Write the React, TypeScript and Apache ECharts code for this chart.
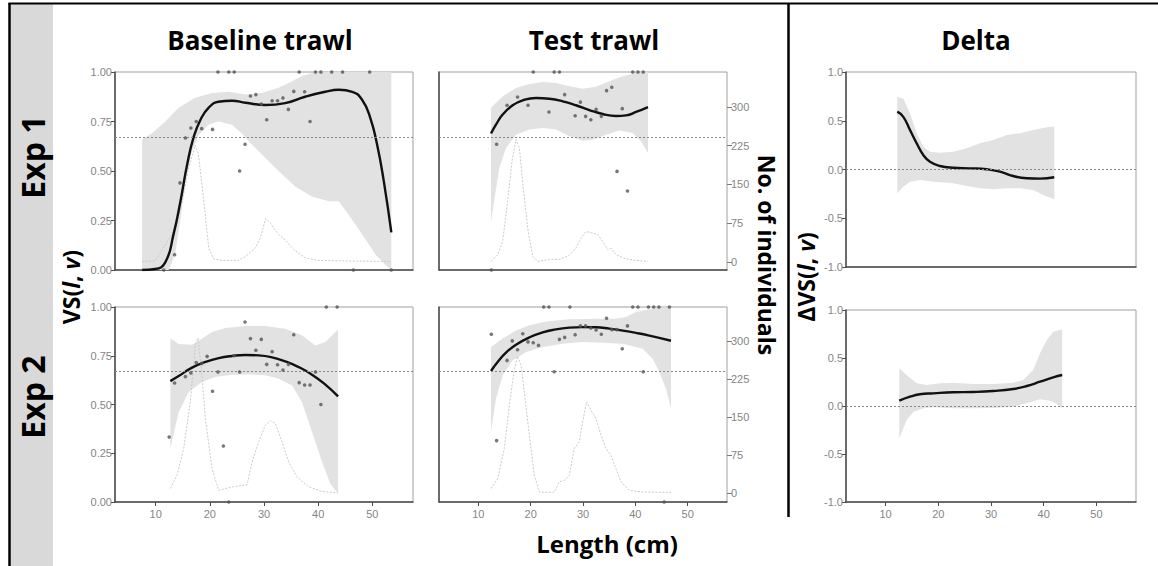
import React, { useEffect, useRef } from "react";
import * as echarts from "echarts";

// ---------- DATA ----------
const X_TICKS = [10, 20, 30, 40, 50];
const VS_TICKS_FMT = 2;
const COUNT_TICKS = [0, 75, 150, 225, 300];
const REF_VS = 0.667;
const REF_DELTA = 0;

// Exp 1 – Baseline trawl
const e1bFit = [[7.5,0],[9.9,0.005],[11.8,0.04],[13.3,0.18],[14.6,0.35],[15.8,0.53],[17.0,0.67],[18.3,0.76],[19.8,0.82],[21.6,0.85],[24.1,0.855],[26.6,0.845],[30.3,0.833],[33.9,0.843],[37.6,0.875],[41.3,0.9],[43.8,0.91],[46.3,0.9],[48.1,0.86],[49.6,0.77],[50.9,0.63],[52.1,0.45],[53.5,0.19]];
const e1bHi = [[7.5,0.66],[9.3,0.69],[11.8,0.75],[14.25,0.82],[17.3,0.87],[20.4,0.894],[23.5,0.9],[26.6,0.886],[29.6,0.894],[32.7,0.92],[35.2,0.953],[37.0,0.98],[38.9,0.995],[41.9,1],[53.5,1]];
const e1bLo = [[7.5,0],[12.4,0],[13.6,0.08],[14.6,0.26],[15.5,0.45],[16.7,0.6],[17.9,0.68],[19.8,0.735],[21.6,0.75],[24.1,0.734],[25.9,0.69],[27.8,0.633],[30.3,0.565],[32.7,0.5],[35.8,0.42],[38.9,0.37],[42.0,0.347],[43.8,0.347],[45.6,0.28],[48.1,0.18],[50.6,0.077],[52.4,0.027],[53.5,0]];
const e1bCount = [[7.5,1],[9.9,2],[11.2,24],[12.4,43],[13.6,66],[14.9,117],[16.1,182],[17.3,226],[17.9,208],[18.9,117],[19.8,27],[20.7,6],[22.3,3],[25.3,3],[26.6,11],[28.4,27],[29.3,46],[30.3,84],[31.2,75],[32.7,53],[33.9,43],[35.5,24],[37.6,8],[40.1,3],[45.0,2],[53.5,1]];
const e1bPts = [[11.5,0],[13.5,0.077],[14.5,0.44],[15.5,0.667],[16.5,0.717],[17.5,0.75],[18.5,0.714],[20.5,0.71],[21.5,1],[23.5,1],[24.5,1],[25.5,0.5],[26.5,0.635],[27.5,0.879],[28.5,0.886],[29.5,0.838],[30.5,0.759],[31.5,0.855],[32.5,0.855],[33.5,0.869],[34.5,0.811],[35.5,0.902],[36.5,1],[37.5,0.9],[38.5,0.75],[39.5,1],[40.5,1],[42.5,1],[44.5,1],[46.5,0],[49.5,1],[53.5,0]];

// Exp 1 – Test trawl
const e1tFit = [[12.43,0.689],[13.38,0.734],[14.66,0.785],[16.57,0.832],[18.48,0.857],[21.02,0.869],[23.57,0.865],[26.12,0.852],[28.66,0.832],[31.21,0.808],[33.75,0.788],[36.3,0.778],[38.21,0.781],[40.12,0.798],[42.41,0.823]];
const e1tHi = [[12.43,0.82],[14.66,0.877],[17.2,0.919],[19.75,0.94],[22.3,0.95],[24.84,0.944],[27.39,0.928],[29.93,0.916],[32.48,0.926],[35.03,0.953],[37.57,0.978],[40.12,0.995],[42.41,1]];
const e1tLo = [[12.43,0.246],[14.02,0.515],[15.29,0.616],[17.2,0.683],[19.75,0.709],[22.3,0.717],[24.84,0.709],[27.39,0.675],[29.93,0.653],[31.84,0.658],[34.39,0.683],[36.94,0.704],[39.48,0.692],[41.07,0.65],[42.41,0.591]];
const e1tCount = [[12.43,1],[13.7,14],[14.66,40],[15.6,117],[16.44,195],[17.2,237],[17.84,221],[18.6,143],[19.43,66],[20.39,11],[21.34,1],[23.57,5],[25.48,5],[27.39,13],[28.66,27],[29.62,46],[30.57,59],[31.84,56],[32.8,53],[33.75,40],[34.7,24],[35.35,27],[36.3,14],[38.21,6],[40.12,3],[42.41,1]];
const e1tPts = [[12.5,0],[13.5,0.635],[15.5,0.832],[17.5,0.874],[19.5,0.832],[20.5,1],[23.5,0.798],[24.5,1],[25.5,1],[26.5,0.886],[28.5,0.779],[29.5,0.848],[30.5,0.776],[31.5,0.759],[32.5,0.811],[33.5,0.776],[34.5,0.906],[35.5,0.923],[36.5,0.498],[37.5,0.815],[38.5,0.399],[39.5,1],[40.5,1],[41.5,1]];

// Exp 1 – Delta
const e1dFit = [[12.23,0.593],[13.37,0.54],[14.64,0.405],[15.9,0.269],[17.16,0.149],[18.43,0.08],[20.33,0.036],[22.85,0.018],[26.0,0.012],[29.2,0.002],[31.7,-0.022],[34.2,-0.067],[36.8,-0.09],[39.3,-0.094],[42.0,-0.08]];
const e1dHi = [[12.23,0.747],[13.37,0.726],[14.64,0.576],[15.9,0.371],[17.16,0.234],[18.43,0.183],[20.33,0.173],[22.85,0.183],[25.4,0.217],[27.9,0.269],[30.4,0.303],[33.0,0.354],[35.5,0.371],[38.0,0.405],[40.6,0.433],[42.0,0.44]];
const e1dLo = [[12.23,-0.244],[13.37,-0.176],[14.64,-0.125],[16.53,-0.108],[19.06,-0.125],[22.85,-0.142],[25.4,-0.169],[27.9,-0.193],[30.4,-0.203],[33.0,-0.193],[35.5,-0.193],[38.0,-0.21],[39.9,-0.262],[42.0,-0.306]];

// Exp 2 – Baseline trawl
const e2bFit = [[12.72,0.62],[14.25,0.646],[16.72,0.689],[19.18,0.718],[21.64,0.738],[24.1,0.749],[26.56,0.754],[29.02,0.752],[31.48,0.742],[33.95,0.721],[36.41,0.692],[38.87,0.653],[41.33,0.602],[43.67,0.542]];
const e2bHi = [[12.72,0.84],[14.25,0.81],[16.72,0.807],[18.56,0.838],[20.41,0.872],[22.87,0.892],[26.56,0.903],[30.25,0.903],[33.95,0.889],[37.0,0.855],[39.5,0.803],[41.33,0.82],[43.67,0.885]];
const e2bLo = [[12.72,0.274],[14.25,0.46],[16.1,0.564],[18.56,0.615],[21.0,0.641],[24.1,0.653],[27.18,0.655],[30.25,0.65],[32.72,0.632],[35.18,0.598],[37.0,0.513],[38.87,0.359],[40.72,0.205],[42.25,0.094],[43.67,0.043]];
const e2bCount = [[12.72,9],[13.95,35],[15.18,88],[16.4,180],[17.33,291],[17.82,306],[18.44,245],[19.18,147],[20.41,48],[21.64,5],[24.1,12],[26.87,16],[27.79,61],[29.02,101],[30.25,134],[31.18,143],[32.1,137],[33.33,101],[34.56,61],[36.1,32],[38.25,12],[40.72,3],[43.67,0]];
const e2bPts = [[12.5,0.333],[13.5,0.61],[15.5,0.643],[16.5,0.662],[17.5,0.715],[18.5,0.711],[19.5,0.747],[20.5,0.568],[21.5,0.667],[22.5,0.287],[23.5,0],[24.5,0.75],[25.5,0.667],[26.5,0.923],[27.5,0.838],[28.5,0.778],[29.5,0.834],[30.5,0.706],[31.5,0.771],[32.5,0.704],[33.5,0.677],[34.5,0.706],[35.5,0.858],[36.5,0.612],[37.5,0.6],[38.5,0.6],[39.5,0.667],[40.5,0.5],[41.5,1],[43.5,1]];

// Exp 2 – Test trawl
const e2tFit = [[12.43,0.672],[13.7,0.718],[15.29,0.766],[17.2,0.807],[19.75,0.844],[22.3,0.87],[24.84,0.885],[27.39,0.894],[29.93,0.897],[32.48,0.896],[35.03,0.889],[37.57,0.879],[40.12,0.867],[42.67,0.853],[46.8,0.827]];
const e2tHi = [[12.43,0.795],[14.66,0.838],[17.2,0.88],[19.75,0.906],[22.93,0.926],[27.39,0.937],[32.48,0.94],[36.3,0.94],[38.21,0.949],[40.12,0.974],[42.67,0.988],[45.2,0.997],[46.8,1]];
const e2tLo = [[12.43,0.359],[13.38,0.53],[14.66,0.65],[16.57,0.726],[19.11,0.769],[22.3,0.795],[26.12,0.812],[29.93,0.82],[33.75,0.817],[37.57,0.812],[41.39,0.786],[43.3,0.735],[44.58,0.667],[45.85,0.581],[46.8,0.479]];
const e2tCount = [[12.43,9],[13.7,28],[14.98,88],[15.93,173],[16.89,245],[17.52,270],[18.16,252],[18.8,199],[19.75,114],[20.7,35],[21.66,2],[22.93,1],[24.52,2],[25.48,22],[26.43,25],[27.39,35],[28.34,88],[29.3,101],[29.93,140],[30.7,180],[31.52,163],[32.48,147],[33.44,114],[34.39,88],[35.35,74],[36.3,48],[37.26,22],[38.85,5],[41.39,2],[46.8,1]];
const e2tPts = [[12.5,0.86],[13.5,0.315],[15.5,0.726],[16.5,0.826],[17.5,0.781],[18.5,0.863],[19.5,0.821],[20.5,0.817],[21.5,0.803],[22.5,1],[23.5,1],[24.5,0.668],[25.5,0.834],[26.5,0.844],[27.5,1],[28.5,0.858],[29.5,0.903],[30.5,0.903],[31.5,0.892],[32.5,0.882],[33.5,0.86],[34.5,0.942],[35.5,0.884],[36.5,0.884],[37.5,0.786],[38.5,0.903],[39.5,1],[40.5,1],[41.5,0.668],[42.5,1],[43.5,1],[44.5,1],[45.5,0],[46.5,1]];

// Exp 2 – Delta
const e2dFit = [[12.6,0.055],[14.64,0.097],[16.5,0.122],[19.06,0.132],[22.85,0.143],[26.6,0.146],[30.4,0.156],[34.2,0.177],[36.8,0.208],[39.3,0.253],[41.8,0.299],[43.5,0.323]];
const e2dHi = [[12.6,0.392],[14.0,0.323],[15.9,0.236],[17.8,0.219],[20.3,0.236],[22.85,0.243],[26.6,0.229],[30.4,0.229],[34.2,0.243],[36.1,0.271],[38.0,0.375],[39.3,0.549],[40.6,0.688],[41.8,0.774],[43.5,0.799]];
const e2dLo = [[12.6,-0.337],[14.0,-0.146],[15.3,-0.059],[17.2,-0.024],[19.1,-0.014],[22.85,-0.024],[26.6,-0.024],[30.4,-0.02],[34.2,-0.007],[36.8,0.028],[39.3,0.07],[41.2,0.055],[42.5,0.021],[43.5,-0.024]];

// ---------- STYLE ----------
const LABEL_FONT = "'Liberation Sans', Arial, sans-serif";
const TITLE_FONT = "'Open Sans', 'Noto Sans', sans-serif";
const LABEL_COLOR = "#858585";
const AXIS_DARK = "#4a4a4a";
const RIBBON = "#e2e2e2";

function buildOption() {
  const grids = [
    { left: 115, top: 72, width: 298, height: 198 },
    { left: 439, top: 72, width: 288, height: 198 },
    { left: 846, top: 72, width: 290, height: 195 },
    { left: 115, top: 307, width: 298, height: 195 },
    { left: 439, top: 307, width: 288, height: 195 },
    { left: 846, top: 310, width: 290, height: 192 },
  ].map((g) => ({ ...g, show: true, borderColor: "#a0a0a0", borderWidth: 1, backgroundColor: "transparent" }));

  const xAxis = grids.map((_, i) => {
    const bottom = i >= 3;
    return {
      gridIndex: i,
      type: "value",
      min: 2.5,
      max: 57.5,
      splitLine: { show: false },
      axisLine: { show: true, onZero: false, lineStyle: { color: AXIS_DARK, width: 1.5 } },
      axisTick: { show: bottom, length: 4, customValues: X_TICKS, lineStyle: { color: AXIS_DARK } },
      axisLabel: { show: bottom, customValues: X_TICKS, color: LABEL_COLOR, fontFamily: LABEL_FONT, fontSize: 11, margin: 6 },
    };
  });

  const vsAxis = (grid: number, labels: boolean) => ({
    gridIndex: grid,
    type: "value",
    min: 0,
    max: 1,
    interval: 0.25,
    splitLine: { show: false },
    axisLine: { show: true, onZero: false, lineStyle: { color: AXIS_DARK, width: 1.5 } },
    axisTick: { show: labels, length: 4, lineStyle: { color: AXIS_DARK } },
    axisLabel: { show: labels, formatter: (v: number) => v.toFixed(VS_TICKS_FMT), color: LABEL_COLOR, fontFamily: LABEL_FONT, fontSize: 11, margin: 3 },
  });
  const deltaAxis = (grid: number) => ({
    gridIndex: grid,
    type: "value",
    min: -1,
    max: 1,
    interval: 0.5,
    splitLine: { show: false },
    axisLine: { show: true, onZero: false, lineStyle: { color: AXIS_DARK, width: 1.5 } },
    axisTick: { show: true, length: 4, lineStyle: { color: AXIS_DARK } },
    axisLabel: { formatter: (v: number) => v.toFixed(1), color: LABEL_COLOR, fontFamily: LABEL_FONT, fontSize: 11, margin: 3 },
  });
  const countAxis = (grid: number, shown: boolean, min: number, max: number) => ({
    gridIndex: grid,
    type: "value",
    position: "right",
    min,
    max,
    show: shown,
    splitLine: { show: false },
    axisLine: { show: false },
    axisTick: { show: true, length: 5, customValues: COUNT_TICKS, lineStyle: { color: "#7a7a7a" } },
    axisLabel: { customValues: COUNT_TICKS, color: LABEL_COLOR, fontFamily: LABEL_FONT, fontSize: 11, margin: 4 },
  });

  const yAxis = [
    vsAxis(0, true),
    vsAxis(1, false),
    deltaAxis(2),
    vsAxis(3, true),
    vsAxis(4, false),
    deltaAxis(5),
    countAxis(0, false, -15.5, 367.7),
    countAxis(1, true, -15.5, 367.7),
    countAxis(3, false, -17.8, 367.1),
    countAxis(4, true, -17.8, 367.1),
  ];

  const ribbon = (xi: number, yi: number, hi: number[][], lo: number[][]) => {
    const poly = hi.concat(lo.slice().reverse());
    return {
      type: "custom",
      xAxisIndex: xi,
      yAxisIndex: yi,
      data: poly,
      encode: { x: 0, y: 1 },
      clip: true,
      silent: true,
      z: 1,
      renderItem: (params: any, api: any) => {
        if (params.dataIndex !== 0) return null;
        const points = poly.map((p) => api.coord(p));
        return { type: "polygon", shape: { points }, style: { fill: RIBBON } };
      },
    };
  };
  const count = (xi: number, yi: number, d: number[][]) => ({
    type: "line",
    xAxisIndex: xi,
    yAxisIndex: yi,
    data: d,
    showSymbol: false,
    silent: true,
    z: 2,
    lineStyle: { color: "#cacaca", width: 1, type: [2, 1.5] },
  });
  const fit = (xi: number, yi: number, d: number[][], ref: number) => ({
    type: "line",
    xAxisIndex: xi,
    yAxisIndex: yi,
    data: d,
    smooth: true,
    showSymbol: false,
    silent: true,
    z: 4,
    lineStyle: { color: "#111", width: 2.4 },
    markLine: {
      silent: true,
      symbol: "none",
      label: { show: false },
      lineStyle: { color: "#888", type: [2, 2], width: 1 },
      data: [{ yAxis: ref }],
    },
  });
  const pts = (xi: number, yi: number, d: number[][]) => ({
    type: "scatter",
    xAxisIndex: xi,
    yAxisIndex: yi,
    data: d,
    symbolSize: 3.6,
    silent: true,
    z: 5,
    itemStyle: { color: "#555" },
  });

  const series = [
    ribbon(0, 0, e1bHi, e1bLo), count(0, 6, e1bCount), fit(0, 0, e1bFit, REF_VS), pts(0, 0, e1bPts),
    ribbon(1, 1, e1tHi, e1tLo), count(1, 7, e1tCount), fit(1, 1, e1tFit, REF_VS), pts(1, 1, e1tPts),
    ribbon(2, 2, e1dHi, e1dLo), fit(2, 2, e1dFit, REF_DELTA),
    ribbon(3, 3, e2bHi, e2bLo), count(3, 8, e2bCount), fit(3, 3, e2bFit, REF_VS), pts(3, 3, e2bPts),
    ribbon(4, 4, e2tHi, e2tLo), count(4, 9, e2tCount), fit(4, 4, e2tFit, REF_VS), pts(4, 4, e2tPts),
    ribbon(5, 5, e2dHi, e2dLo), fit(5, 5, e2dFit, REF_DELTA),
  ];

  const title = (text: string, x: number, y: number, size: number, rot = 0) => ({
    type: "text",
    x,
    y,
    rotation: rot,
    silent: true,
    style: {
      text,
      fontFamily: TITLE_FONT,
      fontWeight: "bold",
      fontSize: size,
      fill: "#000",
      textAlign: "center",
      textVerticalAlign: "middle",
    },
  });
  const richLabel = (prefix: string, x: number, y: number) => ({
    type: "text",
    x,
    y,
    rotation: Math.PI / 2,
    silent: true,
    style: {
      text: `{a|${prefix}}{b|l}{a|, }{b|v}{a|)}`,
      textAlign: "center",
      textVerticalAlign: "middle",
      rich: {
        a: { fontFamily: TITLE_FONT, fontWeight: "bold", fontSize: 23, fill: "#000" },
        b: { fontFamily: TITLE_FONT, fontWeight: "bold", fontStyle: "italic", fontSize: 23, fill: "#000" },
      },
    },
  });

  const graphic = [
    { type: "rect", silent: true, z: -10, shape: { x: 10, y: 4, width: 43, height: 562 }, style: { fill: "#d9d9d9" } },
    { type: "line", silent: true, shape: { x1: 8.5, y1: 3.5, x2: 1158, y2: 3.5 }, style: { stroke: "#000", lineWidth: 2 } },
    { type: "line", silent: true, shape: { x1: 9.5, y1: 3, x2: 9.5, y2: 566 }, style: { stroke: "#000", lineWidth: 2.5 } },
    { type: "line", silent: true, shape: { x1: 788.5, y1: 3, x2: 788.5, y2: 517 }, style: { stroke: "#000", lineWidth: 2.5 } },
    title("Baseline trawl", 260, 40, 26),
    title("Test trawl", 594, 40, 26),
    title("Delta", 976, 40, 26),
    title("Exp 1", 32, 157, 32, Math.PI / 2),
    title("Exp 2", 32, 397, 32, Math.PI / 2),
    title("No. of individuals", 767, 255, 23, -Math.PI / 2),
    title("Length (cm)", 607, 543, 24),
    richLabel("VS(", 71, 287),
    richLabel("ΔVS(", 806, 277),
  ];

  return {
    animation: false,
    backgroundColor: "#fff",
    grid: grids,
    xAxis,
    yAxis,
    series,
    graphic,
  };
}

export default function App() {
  const ref = useRef<HTMLDivElement>(null);
  useEffect(() => {
    if (!ref.current) return;
    const chart = echarts.init(ref.current, undefined, { renderer: "svg" });
    chart.setOption(buildOption() as any);
    return () => chart.dispose();
  }, []);
  return <div ref={ref} style={{ position: "absolute", left: 0, top: 0, width: 1158, height: 566 }} />;
}
